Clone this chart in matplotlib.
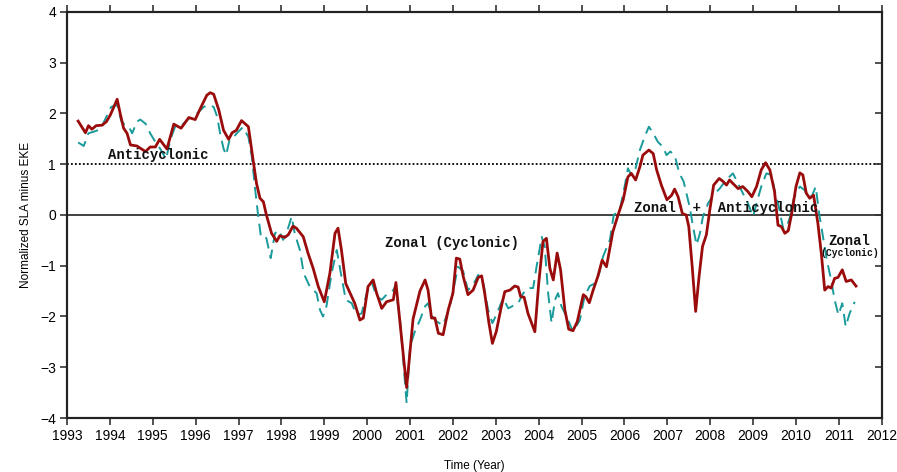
import matplotlib
matplotlib.use("Agg")
import matplotlib.pyplot as plt

# normalized SLA minus EKE index, solid (red) series
red_time = [1993.26, 1993.43, 1993.5, 1993.58, 1993.68, 1993.82, 1993.92, 1994.01, 1994.17, 1994.24,
            1994.32, 1994.4, 1994.48, 1994.63, 1994.83, 1994.94, 1995.06, 1995.16, 1995.33, 1995.49,
            1995.66, 1995.84, 1995.99, 1996.11, 1996.26, 1996.34, 1996.42, 1996.54, 1996.65, 1996.77,
            1996.85, 1996.95, 1997.07, 1997.23, 1997.34, 1997.42, 1997.5, 1997.58, 1997.65, 1997.77,
            1997.89, 1997.96, 1998.08, 1998.16, 1998.27, 1998.35, 1998.51, 1998.62, 1998.74, 1998.86,
            1999.0, 1999.13, 1999.25, 1999.32, 1999.4, 1999.5, 1999.64, 1999.71, 1999.83, 1999.91,
            2000.02, 2000.14, 2000.22, 2000.34, 2000.45, 2000.61, 2000.67, 2000.76, 2000.92, 2001.07,
            2001.23, 2001.35, 2001.42, 2001.5, 2001.58, 2001.66, 2001.77, 2001.89, 2002.0, 2002.08,
            2002.16, 2002.24, 2002.35, 2002.47, 2002.59, 2002.67, 2002.74, 2002.84, 2002.92, 2003.01,
            2003.13, 2003.21, 2003.33, 2003.44, 2003.52, 2003.58, 2003.66, 2003.75, 2003.91, 2004.0,
            2004.1, 2004.18, 2004.26, 2004.34, 2004.43, 2004.51, 2004.61, 2004.7, 2004.8, 2004.9,
            2005.04, 2005.1, 2005.18, 2005.27, 2005.38, 2005.48, 2005.58, 2005.73, 2005.85, 2005.97,
            2006.08, 2006.16, 2006.26, 2006.36, 2006.43, 2006.57, 2006.67, 2006.75, 2006.86, 2006.99,
            2007.1, 2007.17, 2007.25, 2007.35, 2007.44, 2007.5, 2007.58, 2007.66, 2007.74, 2007.82,
            2007.91, 2007.99, 2008.08, 2008.21, 2008.3, 2008.38, 2008.45, 2008.53, 2008.65, 2008.76,
            2008.88, 2008.97, 2009.08, 2009.19, 2009.29, 2009.39, 2009.5, 2009.58, 2009.66, 2009.74,
            2009.82, 2009.9, 2010.0, 2010.09, 2010.16, 2010.24, 2010.32, 2010.41, 2010.51, 2010.59,
            2010.67, 2010.75, 2010.82, 2010.9, 2010.98, 2011.08, 2011.17, 2011.29, 2011.4]
red_value = [1.85, 1.62, 1.76, 1.69, 1.76, 1.77, 1.84, 1.97, 2.28, 2.0,
             1.71, 1.61, 1.38, 1.36, 1.25, 1.34, 1.34, 1.49, 1.3, 1.79,
             1.71, 1.92, 1.88, 2.1, 2.36, 2.41, 2.38, 2.07, 1.67, 1.49,
             1.62, 1.67, 1.86, 1.74, 1.08, 0.62, 0.33, 0.26, 0.0, -0.36,
             -0.52, -0.41, -0.44, -0.39, -0.22, -0.26, -0.43, -0.75, -1.05, -1.41,
             -1.71, -1.15, -0.36, -0.26, -0.69, -1.35, -1.61, -1.74, -2.07, -2.03,
             -1.41, -1.28, -1.54, -1.84, -1.71, -1.67, -1.33, -2.07, -3.4, -2.05,
             -1.5, -1.28, -1.48, -2.03, -2.03, -2.33, -2.36, -1.87, -1.54, -0.85,
             -0.87, -1.21, -1.57, -1.48, -1.23, -1.2, -1.54, -2.13, -2.53, -2.3,
             -1.8, -1.51, -1.48, -1.4, -1.42, -1.61, -1.62, -1.94, -2.3, -1.35,
             -0.52, -0.46, -1.05, -1.28, -0.75, -1.08, -1.87, -2.25, -2.28, -2.1,
             -1.57, -1.61, -1.73, -1.48, -1.21, -0.89, -1.02, -0.33, 0.0, 0.3,
             0.75, 0.82, 0.69, 0.95, 1.18, 1.28, 1.21, 0.89, 0.59, 0.3,
             0.39, 0.51, 0.36, 0.03, 0.0, -0.23, -1.02, -1.9, -1.21, -0.62,
             -0.39, 0.1, 0.59, 0.72, 0.66, 0.59, 0.69, 0.62, 0.52, 0.56,
             0.46, 0.36, 0.56, 0.89, 1.03, 0.89, 0.46, -0.2, -0.23, -0.36,
             -0.31, 0.03, 0.56, 0.83, 0.79, 0.43, 0.33, 0.39, -0.16, -0.75,
             -1.48, -1.41, -1.44, -1.25, -1.23, -1.08, -1.31, -1.28, -1.4]

# dashed (teal) series
teal_time = [1993.26, 1993.39, 1993.5, 1993.62, 1993.78, 1993.92, 1994.03, 1994.17, 1994.27, 1994.36,
             1994.44, 1994.52, 1994.63, 1994.71, 1994.83, 1994.94, 1995.06, 1995.17, 1995.31, 1995.41,
             1995.52, 1995.68, 1995.84, 1995.95, 1996.07, 1996.19, 1996.3, 1996.42, 1996.5, 1996.57,
             1996.65, 1996.71, 1996.79, 1996.88, 1996.96, 1997.1, 1997.23, 1997.31, 1997.38, 1997.46,
             1997.52, 1997.59, 1997.65, 1997.75, 1997.85, 1997.94, 1998.04, 1998.14, 1998.24, 1998.31,
             1998.43, 1998.52, 1998.66, 1998.82, 1998.9, 1998.97, 1999.05, 1999.17, 1999.29, 1999.4,
             1999.5, 1999.64, 1999.75, 1999.87, 1999.99, 2000.1, 2000.22, 2000.34, 2000.45, 2000.61,
             2000.65, 2000.76, 2000.84, 2000.92, 2001.0, 2001.11, 2001.23, 2001.35, 2001.42, 2001.52,
             2001.62, 2001.77, 2001.93, 2002.04, 2002.12, 2002.24, 2002.35, 2002.47, 2002.59, 2002.71,
             2002.82, 2002.92, 2003.01, 2003.17, 2003.29, 2003.4, 2003.52, 2003.64, 2003.75, 2003.87,
             2003.95, 2004.07, 2004.14, 2004.22, 2004.3, 2004.38, 2004.45, 2004.53, 2004.65, 2004.8,
             2004.96, 2005.07, 2005.19, 2005.31, 2005.41, 2005.5, 2005.66, 2005.75, 2005.89, 2006.01,
             2006.08, 2006.16, 2006.26, 2006.36, 2006.47, 2006.57, 2006.67, 2006.78, 2006.9, 2006.98,
             2007.07, 2007.17, 2007.28, 2007.38, 2007.52, 2007.6, 2007.68, 2007.76, 2007.83, 2007.95,
             2008.07, 2008.22, 2008.38, 2008.53, 2008.65, 2008.76, 2008.88, 2009.0, 2009.08, 2009.19,
             2009.31, 2009.43, 2009.5, 2009.6, 2009.7, 2009.77, 2009.85, 2009.95, 2010.09, 2010.2,
             2010.3, 2010.38, 2010.46, 2010.54, 2010.63, 2010.72, 2010.82, 2010.9, 2010.99, 2011.08,
             2011.16, 2011.25, 2011.37]
teal_value = [1.43, 1.36, 1.61, 1.64, 1.69, 1.94, 2.13, 2.17, 1.84, 1.77,
              1.74, 1.61, 1.84, 1.88, 1.8, 1.61, 1.44, 1.31, 1.1, 1.48,
              1.74, 1.77, 1.9, 1.94, 2.03, 2.13, 2.17, 2.13, 1.94, 1.61,
              1.31, 1.18, 1.48, 1.53, 1.61, 1.73, 1.54, 1.15, 0.56, -0.03,
              -0.41, -0.39, -0.46, -0.85, -0.36, -0.3, -0.49, -0.3, -0.03, -0.36,
              -0.69, -1.15, -1.41, -1.54, -1.87, -2.0, -1.8, -1.15, -0.69, -1.21,
              -1.67, -1.74, -1.97, -1.94, -1.54, -1.31, -1.61, -1.67, -1.57, -1.48,
              -1.41, -2.0, -2.85, -3.71, -2.59, -2.3, -2.07, -1.8, -1.74, -2.0,
              -2.1, -2.17, -1.8, -1.35, -1.02, -1.11, -1.48, -1.38, -1.18, -1.35,
              -1.87, -2.13, -1.97, -1.64, -1.84, -1.79, -1.74, -1.54, -1.44, -1.44,
              -1.02, -0.43, -0.62, -1.54, -2.13, -1.67, -1.54, -1.8, -2.0, -2.3,
              -2.07, -1.6, -1.4, -1.35, -1.15, -0.82, -0.49, 0.0, 0.1, 0.59,
              0.92, 0.79, 0.92, 1.28, 1.54, 1.74, 1.61, 1.44, 1.34, 1.18,
              1.25, 1.18, 0.82, 0.66, 0.16, -0.23, -0.59, -0.36, -0.03, 0.23,
              0.39, 0.52, 0.7, 0.82, 0.62, 0.43, 0.23, -0.03, 0.23, 0.56,
              0.82, 0.79, 0.49, 0.16, -0.26, -0.26, -0.07, 0.33, 0.56, 0.49,
              0.33, 0.39, 0.56, 0.03, -0.43, -0.89, -1.28, -1.67, -1.97, -1.74,
              -2.2, -1.94, -1.71]

years = list(range(1993, 2013))
yticks = list(range(-4, 5))

tick_font = ["Liberation Sans Narrow", "Liberation Sans", "DejaVu Sans"]
mono_font = ["Liberation Mono", "DejaVu Sans Mono"]

fig = plt.figure(figsize=(8.97, 4.72), dpi=100)
ax = fig.add_axes([0.0747, 0.1144, 0.9083, 0.8602])

ax.axhline(0, color="#333333", lw=1.3, zorder=1)
ax.axhline(1, color="black", lw=1.3, linestyle=(0, (1, 1.2)), zorder=1)

ax.plot(teal_time, teal_value, color="#1a9a9a", lw=1.4, linestyle=(0, (6, 3.5)), zorder=2)
ax.plot(red_time, red_value, color="#9a0c0c", lw=2.0, zorder=3)

ax.set_xlim(1993, 2012)
ax.set_ylim(-4, 4)
ax.set_xticks(years)
ax.set_yticks(yticks)
ax.set_xticklabels([str(y) for y in years], family=tick_font, fontsize=10)
ax.set_yticklabels([str(v).replace("-", "\u2212") for v in yticks], family=tick_font, fontsize=10)
ax.tick_params(axis="both", direction="out", length=5, width=1.2, color="#333333", pad=3)
ax.tick_params(axis="x", top=True)

# inward ticks on the right frame, no labels
right = ax.twinx()
right.set_ylim(ax.get_ylim())
right.set_yticks(yticks)
right.tick_params(axis="y", direction="in", length=5, width=1.2, color="#333333", labelright=False)

for a in (ax, right):
    for side in ["left", "right", "top", "bottom"]:
        a.spines[side].set_linewidth(1.5)
        a.spines[side].set_color("#222222")

ax.set_xlabel("Time (Year)", family=tick_font, fontsize=8.5, labelpad=12)
ax.set_ylabel("Normalized SLA minus EKE", family=tick_font, fontsize=8.5, labelpad=6)

# regime annotations
ax.text(1995.12, 1.18, "Anticyclonic", family=mono_font, weight="bold", fontsize=10,
        ha="center", va="center", color="#111111")
ax.text(2001.97, -0.55, "Zonal (Cyclonic)", family=mono_font, weight="bold", fontsize=10,
        ha="center", va="center", color="#111111")
ax.text(2008.36, 0.14, "Zonal  +  Anticyclonic", family=mono_font, weight="bold", fontsize=10,
        ha="center", va="center", color="#111111")
ax.text(2011.25, -0.52, "Zonal", family=mono_font, weight="bold", fontsize=10,
        ha="center", va="center", color="#111111")
ax.text(2011.25, -0.74, "(Cyclonic)", family=mono_font, weight="bold", fontsize=7,
        ha="center", va="center", color="#111111")

fig.savefig("out.png", dpi=100)
